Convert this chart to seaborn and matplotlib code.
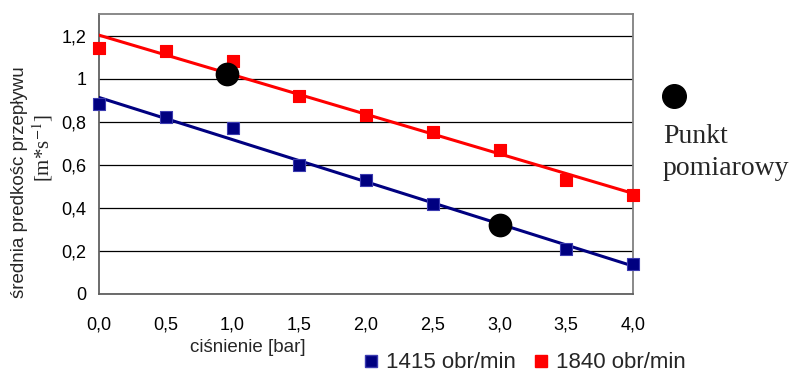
import numpy as np
import pandas as pd
import matplotlib
matplotlib.use("Agg")
import matplotlib.pyplot as plt
import seaborn as sns
from matplotlib.lines import Line2D
from matplotlib.ticker import FixedLocator, FuncFormatter

# data
cisnienie = [0.0, 0.5, 1.0, 1.5, 2.0, 2.5, 3.0, 3.5, 4.0]
v_1415 = [0.88, 0.82, 0.77, 0.60, 0.53, 0.42, 0.32, 0.21, 0.14]
v_1840 = [1.14, 1.13, 1.08, 0.92, 0.83, 0.75, 0.67, 0.53, 0.46]
punkt_x = [0.96, 3.0]
punkt_y = [1.02, 0.32]

sns.set_style("white")
plt.rcParams["font.family"] = ["Liberation Sans", "DejaVu Sans"]
plt.rcParams["mathtext.fontset"] = "stix"

df = pd.DataFrame({"p": cisnienie, "v1415": v_1415, "v1840": v_1840})
navy = "#000080"
red = "#ff0000"

fig = plt.figure(figsize=(7.96, 3.76), dpi=100)
ax = fig.add_axes([99 / 796, 82 / 376, 534 / 796, 280 / 376])

sns.regplot(data=df, x="p", y="v1840", scatter=False, ci=None, color=red,
            line_kws={"lw": 2.2, "zorder": 3}, ax=ax)
sns.regplot(data=df, x="p", y="v1415", scatter=False, ci=None, color=navy,
            line_kws={"lw": 2.2, "zorder": 3}, ax=ax)
sns.scatterplot(data=df, x="p", y="v1415", marker="s", s=74, color=navy,
                edgecolor="#3b3bb0", linewidth=0.8, zorder=4, clip_on=False, ax=ax)
sns.scatterplot(data=df, x="p", y="v1840", marker="s", s=74, color=red,
                edgecolor=red, linewidth=0.8, zorder=4, clip_on=False, ax=ax)
sns.scatterplot(x=punkt_x, y=punkt_y, s=250, color="black", edgecolor="black",
                zorder=5, ax=ax)

ax.set_xlim(0, 4)
ax.set_ylim(0, 1.3)
ax.xaxis.set_major_locator(FixedLocator(cisnienie))
ax.yaxis.set_major_locator(FixedLocator([0, 0.2, 0.4, 0.6, 0.8, 1.0, 1.2]))
ax.xaxis.set_major_formatter(FuncFormatter(lambda v, p: f"{v:.1f}".replace(".", ",")))
ax.yaxis.set_major_formatter(FuncFormatter(
    lambda v, p: "0" if v == 0 else ("1" if abs(v - 1) < 1e-9 else f"{v:.1f}".replace(".", ","))))
ax.grid(axis="y", color="black", lw=0.9)
ax.set_axisbelow(True)
for s in ax.spines.values():
    s.set_visible(True)
    s.set_color("#808080")
    s.set_linewidth(1.3)
ax.spines["left"].set_color("#606060")
ax.spines["bottom"].set_color("#606060")
ax.tick_params(axis="both", direction="out", length=5, width=1.2, color="#606060",
               labelsize=13, labelcolor="black")
ax.tick_params(axis="y", pad=4)
ax.tick_params(axis="x", pad=11)
ax.set_xlabel("")
ax.set_ylabel("")

fig.text(248 / 796, 1 - 348 / 376, "ciśnienie [bar]",
         ha="center", va="center", fontsize=13.5)
fig.text(20 / 796, 1 - 182 / 376, "średnia predkośc przepływu", rotation=90,
         ha="center", va="center", fontsize=13.5)
fig.text(43 / 796, 1 - 148 / 376, "[m*s$^{-1}$]", rotation=90,
         ha="center", va="center", fontsize=15, family="Liberation Serif")

handles = [Line2D([], [], ls="", marker="s", ms=9, color=navy, mec="#3b3bb0"),
           Line2D([], [], ls="", marker="s", ms=9, color=red)]
fig.legend(handles, ["1415 obr/min", "1840 obr/min"], loc="center",
           bbox_to_anchor=(525 / 796, 1 - 363 / 376), ncol=2, frameon=False,
           fontsize=16, handlelength=0.6, handletextpad=0.4, columnspacing=0.8)

fig.add_artist(Line2D([674 / 796], [1 - 96 / 376], marker="o", ms=17,
                      color="black", transform=fig.transFigure))
fig.text(663 / 796, 1 - 143 / 376, "Punkt", ha="left", va="baseline",
         fontsize=20, family="Liberation Serif")
fig.text(663 / 796, 1 - 175 / 376, "pomiarowy", ha="left", va="baseline",
         fontsize=20, family="Liberation Serif")

fig.savefig("out.png", dpi=100)
